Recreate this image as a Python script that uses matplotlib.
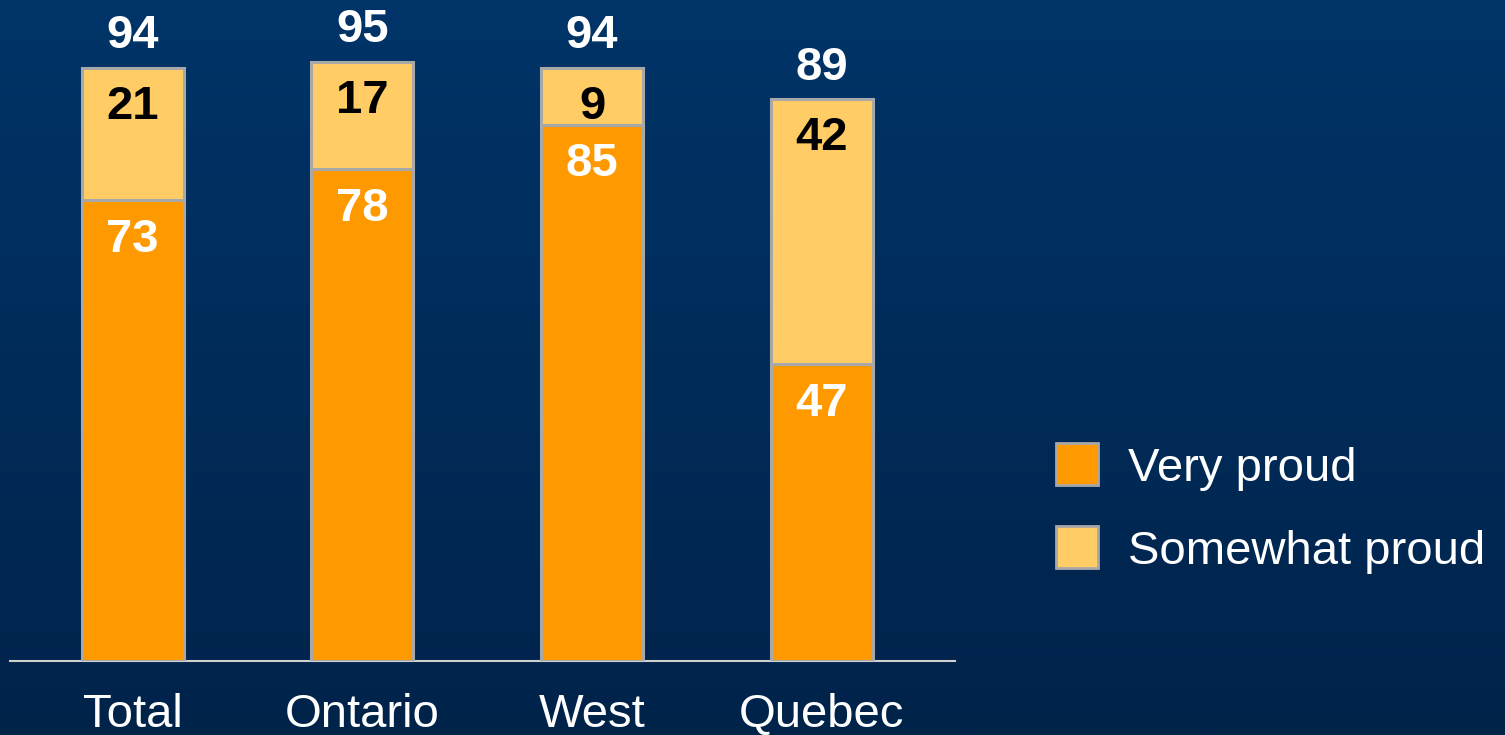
import numpy as np
import matplotlib
matplotlib.use("Agg")
import matplotlib.pyplot as plt
from matplotlib.patches import Rectangle
from matplotlib.colors import LinearSegmentedColormap

categories = ["Total", "Ontario", "West", "Quebec"]
very_proud = [73, 78, 85, 47]
somewhat_proud = [21, 17, 9, 42]
series_names = ["Very proud", "Somewhat proud"]

c_very = "#FF9900"
c_some = "#FFCC66"
edge = "#A8A8A8"
font = ["Liberation Sans", "DejaVu Sans"]

W, H = 1505, 735
fig = plt.figure(figsize=(W / 100, H / 100), dpi=100)

# gradient background
bg = fig.add_axes([0, 0, 1, 1], zorder=-10)
cmap = LinearSegmentedColormap.from_list("bg", ["#003468", "#00234A"])
grad = np.linspace(0, 1, 256).reshape(-1, 1)
bg.imshow(grad, aspect="auto", cmap=cmap, extent=[0, 1, 0, 1], origin="upper")
bg.set_axis_off()

# main axes
ax_left, ax_right = 10, 955
ax_bottom, ax_top = 661, 30
ax = fig.add_axes([ax_left / W, (H - ax_bottom) / H,
                   (ax_right - ax_left) / W, (ax_bottom - ax_top) / H])
ax.patch.set_alpha(0)

x = np.arange(len(categories))
width = 0.444
vp = np.array(very_proud)
sp = np.array(somewhat_proud)
tot = vp + sp

ax.bar(x, vp, width, color=c_very, edgecolor=edge, linewidth=2.2, zorder=3)
ax.bar(x, sp, width, bottom=vp, color=c_some, edgecolor=edge, linewidth=2.2, zorder=3)

ax.set_xlim(-0.534, 3.58)
ax.set_ylim(0, 100)

for xi, v, s, t in zip(x, vp, sp, tot):
    ax.annotate(f"{v}", (xi, v), xytext=(0, -25), textcoords="offset points",
                ha="center", va="center_baseline", color="white", fontsize=34,
                fontweight="bold", family=font, zorder=5)
    ax.annotate(f"{s}", (xi, t), xytext=(0, -24.5), textcoords="offset points",
                ha="center", va="center_baseline", color="black", fontsize=34,
                fontweight="bold", family=font, zorder=5)
    ax.annotate(f"{t}", (xi, t), xytext=(0, 26.5), textcoords="offset points",
                ha="center", va="center_baseline", color="white", fontsize=34,
                fontweight="bold", family=font, zorder=5)

for s in ["top", "right", "left"]:
    ax.spines[s].set_visible(False)
ax.spines["bottom"].set_color("#D0D0D0")
ax.spines["bottom"].set_linewidth(1.5)
ax.set_yticks([])
ax.set_xticks(x)
ax.set_xticklabels(categories, fontsize=34, color="white", family=font)
ax.tick_params(axis="x", length=0, pad=23)

# legend
leg_x, sq = 1056, 42
leg_ys = [443, 526]
for name, col, ly in zip(series_names, [c_very, c_some], leg_ys):
    fig.patches.append(Rectangle((leg_x / W, (H - ly - sq) / H), sq / W, sq / H,
                                 transform=fig.transFigure, facecolor=col,
                                 edgecolor=edge, linewidth=2.0))
    fig.text(1128 / W, (H - ly - sq / 2) / H, name, fontsize=34, color="white",
             family=font, ha="left", va="center_baseline")

fig.savefig("out.png", dpi=100)
